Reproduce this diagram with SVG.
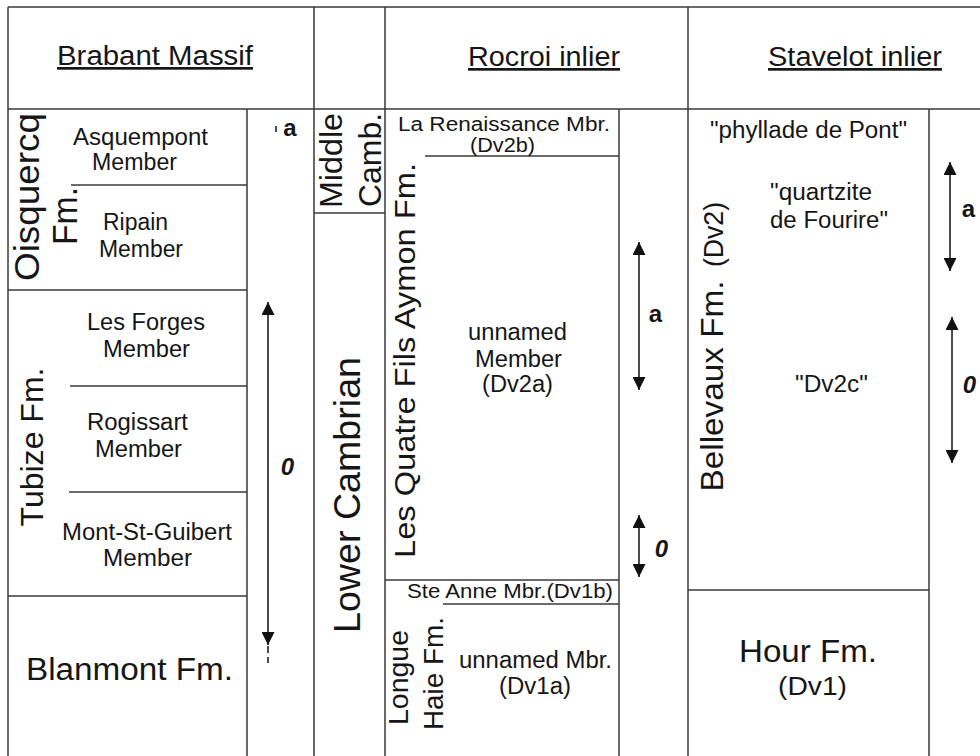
<svg xmlns="http://www.w3.org/2000/svg" width="980" height="756" viewBox="0 0 980 756">
<style>
.ln{stroke:#3a3a3a;stroke-width:1.5;fill:none}
text{font-family:"Liberation Sans",Arial,sans-serif;fill:#161616}
.h{font-size:27px;text-anchor:middle;text-decoration:underline}
.m{font-size:23px;text-anchor:middle}
.s{font-size:20px;text-anchor:middle}
.b{font-size:31px;text-anchor:middle}
.r{text-anchor:middle}
.lab{font-size:24px;font-weight:bold;text-anchor:middle}
.lab0{font-size:24px;font-weight:bold;font-style:italic;text-anchor:middle}
.arr{stroke:#111;stroke-width:1.5;fill:none;marker-start:url(#ah);marker-end:url(#ah)}
</style>
<defs>
<marker id="ah" markerUnits="userSpaceOnUse" markerWidth="13" markerHeight="13" refX="13" refY="6.5" orient="auto-start-reverse" viewBox="0 0 13 13">
<path d="M0,0 L13,6.5 L0,13 z" fill="#111"/>
</marker>
</defs>
<rect width="980" height="756" fill="#fff"/>
<g id="grid">
<path class="ln" d="M8,7H980M8,109H980M8,7V756M314,7V756M385,7V756M688,7V756M247,109V756M619,109V756M929,109V756"/>
</g>
<g id="header-brabant"><text class="h" x="155" y="65" textLength="196" lengthAdjust="spacingAndGlyphs">Brabant Massif</text></g>
<g id="header-rocroi"><text class="h" x="544" y="66" textLength="152" lengthAdjust="spacingAndGlyphs">Rocroi inlier</text></g>
<g id="header-stavelot"><text class="h" x="855" y="66" textLength="174" lengthAdjust="spacingAndGlyphs">Stavelot inlier</text></g>
<g id="oisquercq">
<path class="ln" d="M8,290H247"/>
<text class="r" font-size="35" transform="translate(39,197) rotate(-90)" textLength="168" lengthAdjust="spacingAndGlyphs">Oisquercq</text>
<text class="r" font-size="35" transform="translate(77,216) rotate(-90)" textLength="58" lengthAdjust="spacingAndGlyphs">Fm.</text>
</g>
<g id="asquempont">
<path class="ln" d="M71,185H247"/>
<text class="m" x="140.5" y="145" textLength="135" lengthAdjust="spacingAndGlyphs">Asquempont</text>
<text class="m" x="134.5" y="170" textLength="85" lengthAdjust="spacingAndGlyphs">Member</text>
</g>
<g id="ripain">
<text class="m" x="135.5" y="230" textLength="65" lengthAdjust="spacingAndGlyphs">Ripain</text>
<text class="m" x="141" y="257" textLength="84" lengthAdjust="spacingAndGlyphs">Member</text>
</g>
<g id="tubize">
<path class="ln" d="M8,596H247"/>
<text class="r" font-size="32" transform="translate(43,447) rotate(-90)" textLength="159" lengthAdjust="spacingAndGlyphs">Tubize Fm.</text>
</g>
<g id="les-forges">
<path class="ln" d="M70,386H247"/>
<text class="m" x="146" y="330" textLength="118" lengthAdjust="spacingAndGlyphs">Les Forges</text>
<text class="m" x="146.5" y="357" textLength="87" lengthAdjust="spacingAndGlyphs">Member</text>
</g>
<g id="rogissart">
<path class="ln" d="M69,492H247"/>
<text class="m" x="137.5" y="430" textLength="101" lengthAdjust="spacingAndGlyphs">Rogissart</text>
<text class="m" x="138.5" y="457" textLength="87" lengthAdjust="spacingAndGlyphs">Member</text>
</g>
<g id="mont-st-guibert">
<text class="m" x="147" y="540" textLength="170" lengthAdjust="spacingAndGlyphs">Mont-St-Guibert</text>
<text class="m" x="147.5" y="566" textLength="89" lengthAdjust="spacingAndGlyphs">Member</text>
</g>
<g id="blanmont">
<text class="b" x="129.5" y="680" textLength="207" lengthAdjust="spacingAndGlyphs">Blanmont Fm.</text>
</g>
<g id="middle-camb">
<path class="ln" d="M314,213H385"/>
<text class="r" font-size="32" transform="translate(342,160.5) rotate(-90)" textLength="95" lengthAdjust="spacingAndGlyphs">Middle</text>
<text class="r" font-size="32" transform="translate(381,160) rotate(-90)" textLength="94" lengthAdjust="spacingAndGlyphs">Camb.</text>
</g>
<g id="lower-cambrian">
<text class="r" font-size="36" transform="translate(360,495) rotate(-90)" textLength="276" lengthAdjust="spacingAndGlyphs">Lower Cambrian</text>
</g>
<g id="quatre-fils-aymon">
<path class="ln" d="M385,580H619"/>
<text class="r" font-size="30" transform="translate(415,360.5) rotate(-90)" textLength="395" lengthAdjust="spacingAndGlyphs">Les Quatre Fils Aymon Fm.</text>
</g>
<g id="la-renaissance">
<path class="ln" d="M425,156H619"/>
<text class="s" x="504" y="131" textLength="212" lengthAdjust="spacingAndGlyphs">La Renaissance Mbr.</text>
<text class="s" x="502.5" y="152" font-size="19" textLength="65" lengthAdjust="spacingAndGlyphs">(Dv2b)</text>
</g>
<g id="unnamed-dv2a">
<text class="m" x="517.5" y="340" textLength="99" lengthAdjust="spacingAndGlyphs">unnamed</text>
<text class="m" x="518.5" y="367" textLength="87" lengthAdjust="spacingAndGlyphs">Member</text>
<text class="m" x="517.5" y="392" textLength="71" lengthAdjust="spacingAndGlyphs">(Dv2a)</text>
</g>
<g id="longue-haie">
<text class="r" font-size="28" transform="translate(408,677.5) rotate(-90)" textLength="95" lengthAdjust="spacingAndGlyphs">Longue</text>
<text class="r" font-size="28" transform="translate(443,673.5) rotate(-90)" textLength="113" lengthAdjust="spacingAndGlyphs">Haie Fm.</text>
</g>
<g id="ste-anne">
<path class="ln" d="M443,604H619"/>
<text class="s" x="510" y="598" font-size="21" textLength="206" lengthAdjust="spacingAndGlyphs">Ste Anne Mbr.(Dv1b)</text>
</g>
<g id="unnamed-dv1a">
<text class="m" x="535.5" y="668" textLength="153" lengthAdjust="spacingAndGlyphs">unnamed Mbr.</text>
<text class="m" x="535" y="694" textLength="72" lengthAdjust="spacingAndGlyphs">(Dv1a)</text>
</g>
<g id="bellevaux">
<path class="ln" d="M688,590H929"/>
<text class="r" font-size="31" transform="translate(723,386) rotate(-90)" textLength="211" lengthAdjust="spacingAndGlyphs">Bellevaux Fm.</text>
<text class="r" font-size="28" transform="translate(723,234.5) rotate(-90)" textLength="65" lengthAdjust="spacingAndGlyphs">(Dv2)</text>
<text class="m" x="808.5" y="138" textLength="197" lengthAdjust="spacingAndGlyphs">"phyllade de Pont"</text>
<text class="m" x="770" y="200" style="text-anchor:start" textLength="102" lengthAdjust="spacingAndGlyphs">"quartzite</text>
<text class="m" x="770" y="228" style="text-anchor:start" textLength="118" lengthAdjust="spacingAndGlyphs">de Fourire"</text>
<text class="m" x="831.5" y="392" textLength="73" lengthAdjust="spacingAndGlyphs">"Dv2c"</text>
</g>
<g id="hour">
<text class="b" x="808" y="662" textLength="138" lengthAdjust="spacingAndGlyphs">Hour Fm.</text>
<text class="r" font-size="26" x="812.5" y="695" textLength="69" lengthAdjust="spacingAndGlyphs">(Dv1)</text>
</g>
<g id="connectors">
<path stroke="#111" stroke-width="1.5" d="M276,126V132"/>
<path class="arr" d="M268,302V645"/>
<path stroke="#111" stroke-width="1.5" stroke-dasharray="7,4" d="M268,646V663"/>
<path class="arr" d="M639,242V390"/>
<path class="arr" d="M639,515V577"/>
<path class="arr" d="M950,162V271"/>
<path class="arr" d="M952,317V463"/>
</g>
<g id="labels">
<text class="lab" x="290" y="136">a</text>
<text class="lab0" x="287.5" y="475">0</text>
<text class="lab" x="655.5" y="322">a</text>
<text class="lab0" x="661.5" y="557">0</text>
<text class="lab" x="968.5" y="217">a</text>
<text class="lab0" x="969.5" y="393">0</text>
</g>
</svg>
